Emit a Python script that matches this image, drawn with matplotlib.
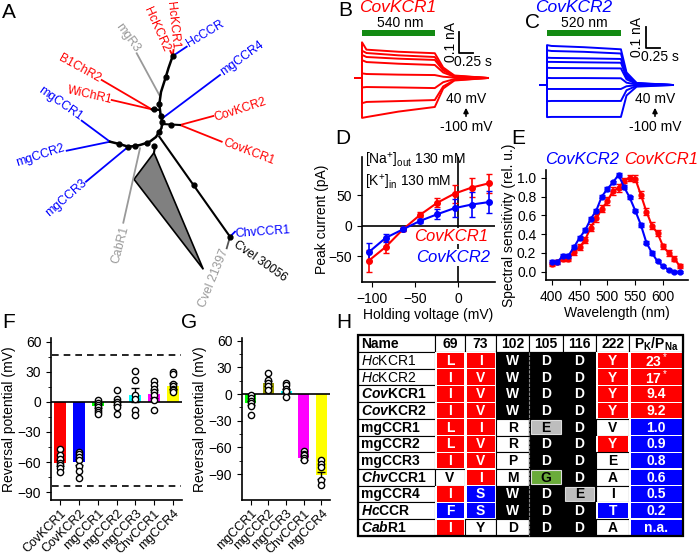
import matplotlib
matplotlib.use("Agg")
import matplotlib.pyplot as plt
from matplotlib.patches import Rectangle, Polygon, FancyArrowPatch

plt.rcParams['font.family'] = ['Liberation Sans', 'DejaVu Sans']
plt.rcParams['font.size'] = 10
plt.rcParams['mathtext.fontset'] = 'custom'
plt.rcParams['mathtext.rm'] = 'Liberation Sans'
plt.rcParams['mathtext.it'] = 'Liberation Sans:italic'
plt.rcParams['mathtext.bf'] = 'Liberation Sans:bold'
plt.rcParams['mathtext.bfit'] = 'Liberation Sans:italic:bold'
plt.rcParams['axes.linewidth'] = 1.2

RED, BLUE, GREEN_BAR = '#ff0000', '#0000ff', '#138a13'

# ---------------- A: tree (layout units) ----------------
backbone = [(172.7, 56), (168.5, 68), (165.7, 77.3), (161, 92), (159.3, 104.3), (160.7, 115.7),
            (162.3, 121.7), (161.5, 128), (159.3, 131.7), (156, 137), (150, 141.5), (147.3, 142.7),
            (140, 145), (135, 146), (128.3, 146.7), (119.3, 144), (110, 141.7)]
tree_edges = [((172.7, 56), (173.5, 50), RED), ((172.7, 56), (170.3, 51), RED),
              ((172.7, 56), (186.7, 46.7), BLUE), ((159.3, 95), (136.7, 53.3), '#999999'),
              ((162.3, 118.3), (220, 75), BLUE), ((151.7, 109.3), (101.7, 80), RED),
              ((151.7, 109.3), (111.7, 100), RED), ((180, 125), (213.3, 116), RED),
              ((180, 125), (221.7, 141.7), RED), ((110, 141.7), (81.7, 120.7), BLUE),
              ((110, 141.7), (66.7, 150.7), BLUE), ((128.3, 146.7), (86, 181.7), BLUE),
              ((140, 148.3), (123.3, 222.7), '#999999'), ((230, 236.7), (235, 231.7), BLUE),
              ((230, 236.7), (226.7, 248.3), '#555555')]
black_edges = [((159.5, 110), (151.7, 109.3)), ((162, 124), (180, 125)),
               ((159.3, 136.7), (230, 236.7)), ((155, 146), (154, 152.7))]
tree_dots = [(172.7, 56), (165.7, 77.3), (159.3, 104.3), (154, 109.3), (160.7, 115.7),
             (162.3, 121.7), (170.7, 125), (159.3, 131.7), (154.3, 146), (147.3, 142.7),
             (135, 146), (128.3, 146.7), (119.3, 144), (194.3, 185), (230, 236.7)]
clade = [(154, 152.7), (134, 179.3), (203.3, 269.3)]
leaf_labels = ['HcKCR1', 'HcKCR2', 'HcCCR', 'mgR3', 'mgCCR4', 'B1ChR2', 'WiChR1', 'CovKCR2',
               'CovKCR1', 'mgCCR1', 'mgCCR2', 'mgCCR3', 'CabR1', 'Cvel 21397', 'ChvCCR1', 'Cvel 30056']
leaf_xy = [(172.5, 25), (156.7, 29), (205, 34), (127.5, 37.5), (241.7, 58.3), (80, 68.3),
           (90, 95), (240, 109.5), (248.3, 151.7), (60, 104), (40.8, 155.8), (66.7, 197.5),
           (120, 245), (214, 278), (263, 232), (260, 261)]
leaf_rot = [-84, -66, 31, -54, 36, -29, -13, 18, -21, -35, 18, 41, 75, 68, 4, -35]
leaf_col = [RED, RED, BLUE, '#999999', BLUE, RED, RED, RED, RED, BLUE, BLUE, BLUE,
            '#999999', '#999999', BLUE, 'black']

# ---------------- B, C: photocurrent traces ----------------
b_times = [-0.12, 0.0, 0.0, 0.08, 0.65, 1.30, 1.45, 1.65, 2.25]
b_traces = [[0, 0, 0.17, 0.135, 0.125, 0.118, 0.05, 0.012, 0],
            [0, 0, 0.13, 0.119, 0.108, 0.100, 0.042, 0.010, 0],
            [0, 0, 0.11, 0.100, 0.092, 0.086, 0.036, 0.008, 0],
            [0, 0, 0.085, 0.076, 0.068, 0.062, 0.026, 0.006, 0],
            [0, 0, 0.022, 0.019, 0.016, 0.014, 0.006, 0.002, 0],
            [0, 0, -0.045, -0.043, -0.045, -0.048, -0.020, -0.005, 0],
            [0, 0, -0.12, -0.114, -0.110, -0.105, -0.040, -0.010, 0],
            [0, 0, -0.19, -0.186, -0.160, -0.138, -0.050, -0.012, 0]]
c_times = [-0.125, 0.0, 0.0, 0.08, 0.66, 1.32, 1.42, 1.60, 2.25]
c_traces = [[0, 0, 0.19, 0.186, 0.180, 0.170, 0.06, 0.01, 0],
            [0, 0, 0.165, 0.162, 0.158, 0.150, 0.05, 0.008, 0],
            [0, 0, 0.13, 0.129, 0.127, 0.124, 0.042, 0.007, 0],
            [0, 0, 0.11, 0.110, 0.108, 0.106, 0.036, 0.006, 0],
            [0, 0, 0.082, 0.081, 0.080, 0.079, 0.027, 0.005, 0],
            [0, 0, 0.034, 0.033, 0.033, 0.032, 0.011, 0.002, 0],
            [0, 0, -0.019, -0.019, -0.019, -0.019, -0.006, -0.001, 0],
            [0, 0, -0.077, -0.076, -0.076, -0.076, -0.025, -0.004, 0],
            [0, 0, -0.153, -0.152, -0.152, -0.152, -0.05, -0.008, 0]]

# ---------------- D: I-V ----------------
d_volt = [-104, -84, -64, -44, -24, -4, 16, 36]
d_kcr1 = [-58, -35, -6, 18, 38, 53, 63, 70]
d_kcr1_err = [18, 10, 3, 4, 7, 15, 15, 16]
d_kcr2 = [-44, -20, -6, 8, 19, 29, 35, 39]
d_kcr2_err = [15, 7, 3, 3, 8, 15, 20, 18]

# ---------------- E: action spectra ----------------
e_wl = [400, 410, 420, 430, 440, 450, 460, 470, 480, 490, 500, 510,
        520, 530, 540, 550, 560, 570, 580, 590, 600, 610, 620, 630]
e_kcr2 = [0.10, 0.10, 0.17, 0.17, 0.26, 0.36, 0.44, 0.56, 0.65, 0.80, 0.88, 0.95,
          1.03, 0.90, 0.79, 0.65, 0.50, 0.31, 0.20, 0.11, 0.06, 0.02, 0.00, 0.00]
e_kcr2_err = [0.02, 0.02, 0.02, 0.02, 0.02, 0.02, 0.02, 0.02, 0.02, 0.02, 0.02, 0.02,
              0.02, 0.02, 0.02, 0.02, 0.02, 0.02, 0.02, 0.01, 0.01, 0.01, 0.01, 0.01]
e_kcr1 = [0.08, 0.10, 0.14, 0.14, 0.21, 0.26, 0.34, 0.47, 0.57, 0.67, 0.75, 0.86,
          0.89, 0.97, 1.00, 0.99, 0.82, 0.64, 0.49, 0.41, 0.27, 0.20, 0.14, 0.06]
e_kcr1_err = [0.02, 0.02, 0.03, 0.03, 0.03, 0.03, 0.03, 0.04, 0.04, 0.04, 0.04, 0.04,
              0.04, 0.03, 0.03, 0.04, 0.04, 0.04, 0.04, 0.03, 0.03, 0.03, 0.03, 0.02]

# ---------------- F, G: reversal potentials ----------------
f_names = ['CovKCR1', 'CovKCR2', 'mgCCR1', 'mgCCR2', 'mgCCR3', 'ChvCCR1', 'mgCCR4']
f_means = [-61, -60, -4, -1, 7, 8, 16]
f_sem = [3, 3, 2, 2, 7, 4, 3]
f_points = [[-47, -53, -57, -61, -63, -66, -70],
            [-50, -52, -55, -58, -64, -69, -76],
            [2, -1, -3, -5, -8, -10, -12],
            [12, 3, 0, -2, -5, -12],
            [31, 22, 7, 3, -8, -13],
            [21, 17, 13, 10, 7, 2, -8],
            [30, 28, 18, 16, 13, 12, 10]]
f_colors = [RED, BLUE, '#00ff00', '#999900', '#00ffff', '#ff00ff', '#ffff00']
f_limits = [47, -84]

g_names = ['mgCCR1', 'mgCCR2', 'mgCCR3', 'ChvCCR1', 'mgCCR4']
g_means = [-10, 12, 4, -72, -91]
g_sem = [2, 3, 2, 2, 4]
g_points = [[-1, -4.5, -8, -10, -13, -24],
            [24, 16, 12, 9, 5],
            [12, 10.5, 6, 3, -3],
            [-64, -67, -69, -72, -74],
            [-74, -78, -82, -96, -102]]
g_colors = ['#00ff00', '#999900', '#00ffff', '#ff00ff', '#ffff00']

# ---------------- H: residue table ----------------
h_header = ['Name', '69', '73', '102', '105', '116', '222',
            r'P$_\mathbf{K}$/P$_\mathbf{Na}$']
h_names = [r'$\mathit{Hc}$KCR1', r'$\mathit{Hc}$KCR2', r'$\mathbfit{Cov}$KCR1',
           r'$\mathbfit{Cov}$KCR2', 'mgCCR1', 'mgCCR2', 'mgCCR3', r'$\mathbfit{Chv}$CCR1',
           'mgCCR4', r'$\mathbfit{Hc}$CCR', r'$\mathbfit{Cab}$R1']
h_name_bold = [False, False, True, True, True, True, True, True, True, True, True]
res69 = ['L', 'I', 'I', 'I', 'L', 'L', 'I', 'V', 'I', 'F', 'I']
res73 = ['I', 'V', 'V', 'V', 'I', 'V', 'V', 'I', 'S', 'S', 'Y']
res102 = ['W', 'W', 'W', 'W', 'R', 'R', 'P', 'M', 'W', 'W', 'D']
res105 = ['D', 'D', 'D', 'D', 'E', 'D', 'D', 'G', 'D', 'D', 'D']
res116 = ['D', 'D', 'D', 'D', 'D', 'D', 'D', 'D', 'E', 'D', 'D']
res222 = ['Y', 'Y', 'Y', 'Y', 'V', 'Y', 'E', 'A', 'I', 'T', 'A']
pk_ratio = ['23$^*$', '17$^*$', '9.4', '9.2', '1.0', '0.9', '0.8', '0.6', '0.5', '0.2', 'n.a.']
cls69 = 'rrrrrrrwrbr'
cls73 = 'rrrrrrrrbbw'
cls102 = 'kkkkwwwwkkw'
cls105 = 'kkkkekkgkkk'
cls116 = 'kkkkkkkkekk'
cls222 = 'rrrrwrwwwbw'
clspk = 'rrrrbbbbbbb'

# =======================================================
W, H = 700, 560
fig = plt.figure(figsize=(7, 5.6), dpi=100)


def ax_px(l, t, r, b):
    return fig.add_axes([l / W, 1 - b / H, (r - l) / W, (b - t) / H])


def ftext(x, y, s, **kw):
    kw.setdefault('ha', 'center')
    kw.setdefault('va', 'center')
    return fig.text(x / W, 1 - y / H, s, **kw)


for lab, (x, y) in zip('ABCDEFGH', [(9, 12), (345, 10), (532, 23), (343, 138), (518, 138),
                                    (9, 322), (189, 322), (344, 323)]):
    ftext(x, y, lab, fontsize=15)

# ---- A ----
axA = ax_px(0, 0, 330, 300)
axA.set_xlim(0, 330)
axA.set_ylim(300, 0)
axA.axis('off')
axA.add_patch(Polygon(clade, closed=True, facecolor='#808080', edgecolor='black', lw=1.2, zorder=2))
for (p, q, c) in tree_edges:
    axA.plot([p[0], q[0]], [p[1], q[1]], color=c, lw=1.3, zorder=2)
for (p, q) in black_edges:
    axA.plot([p[0], q[0]], [p[1], q[1]], color='black', lw=1.5, zorder=3)
axA.plot([p[0] for p in backbone], [p[1] for p in backbone], color='black', lw=1.8, zorder=3)
axA.plot([p[0] for p in tree_dots], [p[1] for p in tree_dots], 'o', color='black', ms=3.5, zorder=4)
for s, (x, y), r, c in zip(leaf_labels, leaf_xy, leaf_rot, leaf_col):
    axA.text(x, y, s, rotation=r, color=c, ha='center', va='center', fontsize=8.8,
             rotation_mode='anchor', clip_on=False)


# ---- B & C ----
def trace_panel(box, times, traces, color, t_zero_px, base_px, bar_px):
    l, t, r, b = box
    ax = ax_px(l, t, r, b)
    ax.set_xlim((l - t_zero_px) / 56, (r - t_zero_px) / 56)
    ax.set_ylim((base_px - b) / 210, (base_px - t) / 210)
    ax.axis('off')
    for tr in traces:
        ax.plot(times, tr, color=color, lw=1.4)
    light_end = times[5]
    gy = (base_px - 33) / 210
    ax.add_patch(Rectangle((0, gy - 0.014), light_end, 0.028, color=GREEN_BAR, lw=0))
    sx = (bar_px[0] - t_zero_px) / 56
    sy0 = (base_px - bar_px[2]) / 210
    ax.plot([sx, sx, sx + 0.25], [sy0 + 0.1, sy0, sy0], color='black', lw=1.3, clip_on=False)
    return ax


trace_panel((350, 15, 495, 135), b_times, b_traces, RED, 362, 78, (459, 32, 53))
trace_panel((535, 15, 690, 135), c_times, c_traces, BLUE, 547, 85, (646, 27, 48))
ftext(398, 8, 'CovKCR1', color=RED, style='italic', fontsize=12.5)
ftext(574, 8, 'CovKCR2', color=BLUE, style='italic', fontsize=12.5)
ftext(400, 23, '540 nm', fontsize=10)
ftext(584, 23, '520 nm', fontsize=10)
ftext(451, 42, '0.1 nA', rotation=90, fontsize=10)
ftext(473, 62, '0.25 s', fontsize=10)
ftext(637, 37, '0.1 nA', rotation=90, fontsize=10)
ftext(660, 57, '0.25 s', fontsize=10)
for x in (466, 655):
    ftext(x, 99, '40 mV', fontsize=10)
    ftext(x, 127, '-100 mV', fontsize=10)
    fig.patches.append(FancyArrowPatch(
        (x / W, 1 - 119 / H), (x / W, 1 - 105 / H), transform=fig.transFigure,
        arrowstyle='-|>', mutation_scale=7, color='black', lw=1.2))

# ---- D ----
axD = ax_px(362, 157, 495, 282)
axD.set_xlim(-111.6, 43)
axD.set_ylim(-92.9, 113.4)
axD.axhline(0, color='black', lw=1.2, zorder=1)
axD.axvline(0, color='black', lw=1.2, zorder=1)
axD.errorbar(d_volt, d_kcr1, yerr=d_kcr1_err, color=RED, marker='o', ms=4, lw=1.5,
             capsize=2, elinewidth=1.2, zorder=3)
axD.errorbar(d_volt, d_kcr2, yerr=d_kcr2_err, color=BLUE, marker='o', ms=4, lw=1.5,
             capsize=2, elinewidth=1.2, zorder=3)
axD.set_xticks([-100, -50, 0])
axD.set_yticks([-50, 0, 50])
axD.spines[['top', 'right']].set_visible(False)
axD.set_xlabel('Holding voltage (mV)', labelpad=2)
axD.set_ylabel('Peak current (pA)', labelpad=0)
axD.text(-8, -5, 'CovKCR1', color=RED, style='italic', fontsize=12, ha='center', va='top',
         zorder=5, bbox=dict(facecolor='white', edgecolor='none', pad=0.5))
axD.text(-6, -40, 'CovKCR2', color=BLUE, style='italic', fontsize=12, ha='center', va='top',
         zorder=5, bbox=dict(facecolor='white', edgecolor='none', pad=0.5))
ftext(365, 160, r'[Na$^{+}$]$_{\mathregular{out}}$ 130 mM', ha='left', fontsize=10)
ftext(365, 182, r'[K$^{+}$]$_{\mathregular{in}}$ 130 mM', ha='left', fontsize=10)

# ---- E ----
axE = ax_px(546, 170, 688, 280)
axE.set_xlim(389.8, 644.7)
axE.set_ylim(-0.088, 1.082)
axE.errorbar(e_wl, e_kcr1, yerr=e_kcr1_err, color=RED, marker='o', ms=3.5, lw=1.5,
             capsize=2, elinewidth=1.1)
axE.errorbar(e_wl, e_kcr2, yerr=e_kcr2_err, color=BLUE, marker='o', ms=3.5, lw=1.5,
             capsize=2, elinewidth=1.1)
axE.set_xticks([400, 450, 500, 550, 600])
axE.set_yticks([0.0, 0.2, 0.4, 0.6, 0.8, 1.0])
axE.spines[['top', 'right']].set_visible(False)
axE.set_xlabel('Wavelength (nm)', labelpad=2)
axE.set_ylabel('Spectral sensitivity (rel. u.)', labelpad=1)
ftext(582, 160, 'CovKCR2', color=BLUE, style='italic', fontsize=12)
ftext(661, 160, 'CovKCR1', color=RED, style='italic', fontsize=12)


# ---- F, G ----
def rev_panel(box, names, means, sem, points, colors, ylim, limits=None):
    ax = ax_px(*box)
    n = len(names)
    x = list(range(n))
    ax.bar(x, means, width=0.62, color=colors, zorder=2)
    ax.errorbar(x, means, yerr=sem, fmt='none', ecolor='black', capsize=3, elinewidth=1, zorder=3)
    for i, pts in enumerate(points):
        ax.plot([i] * len(pts), pts, 'o', mfc='white', mec='black', ms=4.5, mew=1, zorder=4)
    ax.axhline(0, color='black', lw=1.2, zorder=3)
    if limits:
        for v in limits:
            ax.axhline(v, color='black', lw=1.2, ls=(0, (4, 3)), xmin=0.01, xmax=0.99)
    ax.set_xlim(-0.48, n - 0.52)
    ax.set_ylim(*ylim)
    ax.set_yticks([60, 30, 0, -30, -60, -90])
    ax.set_yticks([45, 15, -15, -45, -75], minor=True)
    ax.set_xticks(x)
    ax.set_xticklabels(names, rotation=45, ha='right', rotation_mode='anchor', fontsize=9)
    ax.tick_params(axis='x', pad=2)
    ax.spines[['top', 'right']].set_visible(False)
    ax.set_ylabel('Reversal potential (mV)', labelpad=1)
    return ax


rev_panel((51, 338, 182, 500), f_names, f_means, f_sem, f_points, f_colors, (-97.8, 63.7), f_limits)
rev_panel((242, 338, 330, 500), g_names, g_means, g_sem, g_points, g_colors, (-119, 63))

# ---- H ----
axH = ax_px(355, 330, 690, 545)
axH.set_xlim(355, 690)
axH.set_ylim(545, 330)
axH.axis('off')
col_x = [358.3, 435, 465, 496, 529.3, 562.7, 596, 629.3, 683.3]
row_top, head_h, row_h = 335, 17, 16.7
fills = {'r': RED, 'b': BLUE}
for j, txt in enumerate(h_header):
    x0, x1 = col_x[j], col_x[j + 1]
    axH.add_patch(Rectangle((x0, row_top), x1 - x0, head_h, fc='white', ec='black', lw=0.8))
    axH.text(x0 + 3 if j == 0 else (x0 + x1) / 2, row_top + head_h / 2 + 0.5, txt,
             ha='left' if j == 0 else 'center', va='center', fontweight='bold', fontsize=10)
cols = [(res69, cls69), (res73, cls73), (res102, cls102), (res105, cls105),
        (res116, cls116), (res222, cls222), (pk_ratio, clspk)]
for i in range(len(h_names)):
    y0 = row_top + head_h + i * row_h
    axH.add_patch(Rectangle((col_x[0], y0), col_x[1] - col_x[0], row_h, fc='white', ec='black', lw=0.8))
    axH.text(col_x[0] + 3, y0 + row_h / 2 + 0.5, h_names[i], ha='left', va='center', fontsize=10,
             fontweight='bold' if h_name_bold[i] else 'normal')
    for j, (vals, cls) in enumerate(cols):
        x0, x1 = col_x[j + 1], col_x[j + 2]
        c = cls[i]
        if c in 'rb':
            axH.add_patch(Rectangle((x0, y0), x1 - x0, row_h, fc='white', ec='none'))
            axH.add_patch(Rectangle((x0 + 1.5, y0 + 0.6), x1 - x0 - 3, row_h - 1.2, fc=fills[c], ec='none'))
        elif c == 'w':
            axH.add_patch(Rectangle((x0, y0), x1 - x0, row_h, fc='white', ec='black', lw=0.8))
        else:
            axH.add_patch(Rectangle((x0, y0), x1 - x0, row_h, fc='black', ec='black', lw=0.8))
            if c in 'eg':
                axH.add_patch(Rectangle((x0 + 2, y0 + 1.5), x1 - x0 - 4, row_h - 3,
                                        fc='#bdbdbd' if c == 'e' else '#6aab3a', ec='#dddddd', lw=0.8))
        tc = 'black' if c in 'weg' else 'white'
        axH.text((x0 + x1) / 2, y0 + row_h / 2 + 0.5, vals[i], ha='center', va='center',
                 color=tc, fontweight='bold', fontsize=10)
axH.plot([col_x[4], col_x[4]], [row_top + head_h, row_top + head_h + 11 * row_h],
         color='#888888', lw=0.8, ls=(0, (3, 1)))
axH.add_patch(Rectangle((col_x[0], row_top), col_x[-1] - col_x[0], head_h + 11 * row_h,
                        fc='none', ec='black', lw=1.6))

fig.savefig('out.png', dpi=100)
